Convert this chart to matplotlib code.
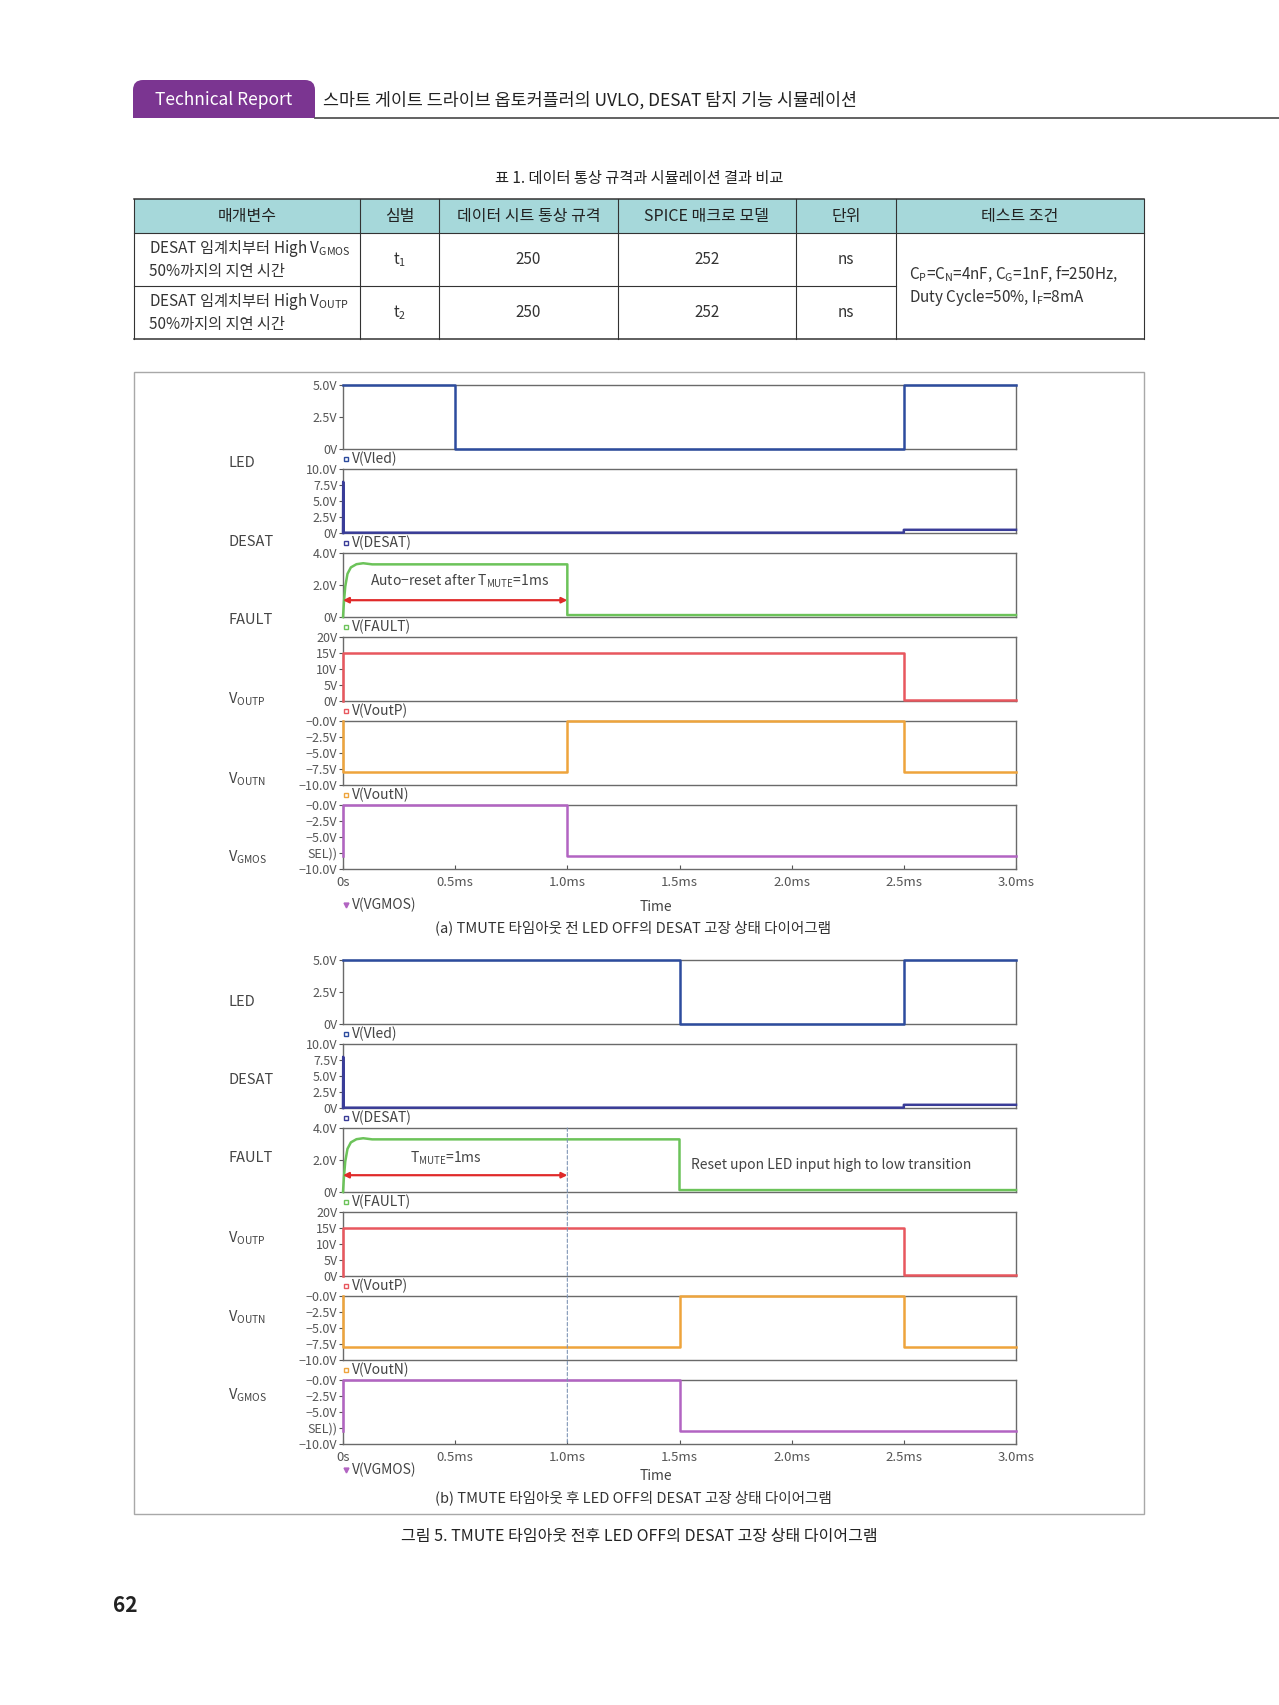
import matplotlib.pyplot as plt
from matplotlib.patches import Rectangle, FancyBboxPatch, ConnectionPatch

plt.rcParams['font.family'] = ['Noto Sans CJK KR', 'DejaVu Sans']
plt.rcParams['mathtext.default'] = 'regular'
plt.rcParams['axes.unicode_minus'] = True

W, H = 1279, 1705

# ---------------- data ----------------
table_header = ['매개변수', '심벌', '데이터 시트 통상 규격', 'SPICE 매크로 모델', '단위', '테스트 조건']
table_param = [('DESAT 임계치부터 High V$_{GMOS}$', '50%까지의 지연 시간'),
               ('DESAT 임계치부터 High V$_{OUTP}$', '50%까지의 지연 시간')]
table_symbol = ['t$_1$', 't$_2$']
table_datasheet = ['250', '250']
table_spice = ['252', '252']
table_unit = ['ns', 'ns']
table_cond = ['C$_P$=C$_N$=4nF, C$_G$=1nF, f=250Hz,', 'Duty Cycle=50%, I$_F$=8mA']

time_ticks = [0, 0.5, 1.0, 1.5, 2.0, 2.5, 3.0]
time_labels = ['0s', '0.5ms', '1.0ms', '1.5ms', '2.0ms', '2.5ms', '3.0ms']

channel_names = ['LED', 'DESAT', 'FAULT', 'V$_{OUTP}$', 'V$_{OUTN}$', 'V$_{GMOS}$']
trace_names = ['V(Vled)', 'V(DESAT)', 'V(FAULT)', 'V(VoutP)', 'V(VoutN)', 'V(VGMOS)']
ylims = [(0, 5), (0, 10), (0, 4), (0, 20), (-10, 0), (-10, 0)]
yticks = [[0, 2.5, 5], [0, 2.5, 5, 7.5, 10], [0, 2, 4], [0, 5, 10, 15, 20],
          [0, -2.5, -5, -7.5, -10], [0, -2.5, -5, -7.5, -10]]
yticklabels = [['0V', '2.5V', '5.0V'],
               ['0V', '2.5V', '5.0V', '7.5V', '10.0V'],
               ['0V', '2.0V', '4.0V'],
               ['0V', '5V', '10V', '15V', '20V'],
               ['\u22120.0V', '\u22122.5V', '\u22125.0V', '\u22127.5V', '\u221210.0V'],
               ['\u22120.0V', '\u22122.5V', '\u22125.0V', 'SEL))', '\u221210.0V']]

# (a) before TMUTE timeout
led_a_t = [0, 0.5, 0.5, 2.5, 2.5, 3.0]
led_a_v = [5.0, 5.0, 0.0, 0.0, 5.0, 5.0]
desat_t = [0, 0.001, 0.003, 2.5, 2.5, 3.0]
desat_v = [0, 8.0, 0.05, 0.05, 0.5, 0.5]
fault_a_t = [0, 0.004, 0.01, 0.02, 0.035, 0.06, 0.09, 0.13, 1.0, 1.0, 3.0]
fault_a_v = [0, 0.9, 1.9, 2.7, 3.1, 3.3, 3.36, 3.29, 3.29, 0.12, 0.12]
voutp_t = [0, 0, 2.5, 2.5, 3.0]
voutp_v = [0, 15.0, 15.0, 0.3, 0.3]
voutn_a_t = [0, 0, 1.0, 1.0, 2.5, 2.5, 3.0]
voutn_a_v = [0, -8.0, -8.0, 0, 0, -8.0, -8.0]
vgmos_a_t = [0, 0, 1.0, 1.0, 3.0]
vgmos_a_v = [-7.9, 0, 0, -7.9, -7.9]

# (b) after TMUTE timeout
led_b_t = [0, 1.5, 1.5, 2.5, 2.5, 3.0]
led_b_v = [5.0, 5.0, 0.0, 0.0, 5.0, 5.0]
fault_b_t = [0, 0.004, 0.01, 0.02, 0.035, 0.06, 0.09, 0.13, 1.5, 1.5, 3.0]
fault_b_v = [0, 0.9, 1.9, 2.7, 3.1, 3.3, 3.36, 3.29, 3.29, 0.12, 0.12]
voutn_b_t = [0, 0, 1.5, 1.5, 2.5, 2.5, 3.0]
voutn_b_v = [0, -8.0, -8.0, 0, 0, -8.0, -8.0]
vgmos_b_t = [0, 0, 1.5, 1.5, 3.0]
vgmos_b_v = [-7.9, 0, 0, -7.9, -7.9]

t_mute = 1.0
arrow_level = 1.05

colors = ['#2d4c9e', '#3a3d98', '#6cc35a', '#e8575e', '#eea43c', '#b264c2']

# ---------------- page ----------------
fig = plt.figure(figsize=(W / 100, H / 100), dpi=100)
page = fig.add_axes([0, 0, 1, 1])
page.set_xlim(0, W)
page.set_ylim(H, 0)
page.axis('off')

# header tab
page.add_patch(FancyBboxPatch((133, 80), 182, 38, boxstyle='round,pad=0,rounding_size=10',
                              fc='#7b3591', ec='none'))
page.add_patch(Rectangle((133, 104), 182, 14, fc='#7b3591', ec='none'))
page.plot([315, W], [118, 118], color='#555555', lw=1.3)
page.text(224, 100, 'Technical Report', color='white', fontsize=12.5, ha='center', va='center')
page.text(323, 100, '스마트 게이트 드라이브 옵토커플러의 UVLO, DESAT 탐지 기능 시뮬레이션',
          color='#222222', fontsize=12.5, ha='left', va='center')

# table
page.text(639, 178, '표 1. 데이터 통상 규격과 시뮬레이션 결과 비교', fontsize=11, ha='center', va='center', color='#222')
cols = [134, 360, 439, 618, 796, 896, 1144]
rows = [199, 233, 286, 339]
page.add_patch(Rectangle((cols[0], rows[0]), cols[-1] - cols[0], rows[1] - rows[0], fc='#a6d8da', ec='none'))
for y in rows:
    x1 = cols[5] if y == rows[2] else cols[-1]
    page.plot([cols[0], x1], [y, y], color='#333333', lw=1.1 if y in (rows[0], rows[-1]) else 0.8)
for x in cols:
    page.plot([x, x], [rows[0], rows[-1]], color='#333333', lw=0.8)
for i, h in enumerate(table_header):
    page.text((cols[i] + cols[i + 1]) / 2, (rows[0] + rows[1]) / 2, h, fontsize=11.5,
              ha='center', va='center', color='#222')
for r in range(2):
    yc = (rows[r + 1] + rows[r + 2]) / 2
    page.text(149, yc - 11, table_param[r][0], fontsize=11, ha='left', va='center', color='#333')
    page.text(149, yc + 12, table_param[r][1], fontsize=11, ha='left', va='center', color='#333')
    for c, vals in zip([1, 2, 3, 4], [table_symbol, table_datasheet, table_spice, table_unit]):
        page.text((cols[c] + cols[c + 1]) / 2, yc, vals[r], fontsize=11, ha='center', va='center', color='#333')
page.text(909, 274, table_cond[0], fontsize=11, ha='left', va='center', color='#333')
page.text(909, 298, table_cond[1], fontsize=11, ha='left', va='center', color='#333')

# figure frame
page.add_patch(Rectangle((134, 372), 1010, 1142, fc='none', ec='#a8a8a8', lw=1))


def rect(x0, y0, x1, y1):
    return [x0 / W, 1 - y1 / H, (x1 - x0) / W, (y1 - y0) / H]


def draw_block(tops, label_ys, traces, xlabel_y, time_y, caption_y, caption):
    axes = []
    for i, top in enumerate(tops):
        ax = fig.add_axes(rect(343, top, 1016, top + 64))
        t, v = traces[i]
        ax.plot(t, v, color=colors[i], lw=1.8, clip_on=False, zorder=3)
        ax.set_xlim(0, 3.0)
        ax.set_ylim(*ylims[i])
        ax.set_yticks(yticks[i])
        ax.set_yticklabels(yticklabels[i])
        ax.set_xticks(time_ticks)
        if i == len(tops) - 1:
            ax.set_xticklabels(time_labels)
        else:
            ax.set_xticklabels([])
        ax.tick_params(axis='y', direction='out', length=3, labelsize=9, colors='#555', pad=1)
        ax.tick_params(axis='x', direction='in', length=3 if i == len(tops) - 1 else 0,
                       labelsize=9.5, colors='#555', pad=5)
        for s in ax.spines.values():
            s.set_color('#6a6a6a')
            s.set_linewidth(1)
        page.text(228, label_ys[i], channel_names[i], fontsize=10.5, ha='left', va='center', color='#444')
        ly = top + 74 if i < len(tops) - 1 else xlabel_y
        page.plot([346], [ly], marker='s' if i < len(tops) - 1 else 'v', ms=3.5,
                  mfc='white' if i < len(tops) - 1 else colors[i], mec=colors[i], mew=1)
        page.text(352, ly, trace_names[i], fontsize=10, ha='left', va='center', color='#444')
        axes.append(ax)
    page.text(656, time_y, 'Time', fontsize=10, ha='center', va='center', color='#444')
    page.text(633, caption_y, caption, fontsize=10.5, ha='center', va='center', color='#333')
    return axes


tops_a = [385, 469, 553, 637, 721, 805]
labels_a = [463, 542, 620, 699, 779, 857]
axes_a = draw_block(tops_a, labels_a,
                    [(led_a_t, led_a_v), (desat_t, desat_v), (fault_a_t, fault_a_v),
                     (voutp_t, voutp_v), (voutn_a_t, voutn_a_v), (vgmos_a_t, vgmos_a_v)],
                    905, 907, 928, '(a) TMUTE 타임아웃 전 LED OFF의 DESAT 고장 상태 다이어그램')

tops_b = [960, 1044, 1128, 1212, 1296, 1380]
labels_b = [1002, 1080, 1158, 1238, 1317, 1395]
axes_b = draw_block(tops_b, labels_b,
                    [(led_b_t, led_b_v), (desat_t, desat_v), (fault_b_t, fault_b_v),
                     (voutp_t, voutp_v), (voutn_b_t, voutn_b_v), (vgmos_b_t, vgmos_b_v)],
                    1470, 1476, 1498, '(b) TMUTE 타임아웃 후 LED OFF의 DESAT 고장 상태 다이어그램')

# annotations
arrow_style = dict(arrowstyle='<|-|>', color='#e02a2a', lw=1.6, mutation_scale=8, shrinkA=0, shrinkB=0)
ax = axes_a[2]
ax.annotate('', xy=(t_mute, arrow_level), xytext=(0.0, arrow_level), arrowprops=arrow_style)
ax.text(0.12, 2.2, 'Auto\u2212reset after T$_{MUTE}$=1ms', fontsize=10, color='#444', ha='left', va='center')

ax = axes_b[2]
ax.annotate('', xy=(t_mute, arrow_level), xytext=(0.0, arrow_level), arrowprops=arrow_style)
ax.text(0.46, 2.1, 'T$_{MUTE}$=1ms', fontsize=10, color='#444', ha='center', va='center')
ax.text(1.55, 1.7, 'Reset upon LED input high to low transition', fontsize=10, color='#444',
        ha='left', va='center')

con = ConnectionPatch(xyA=(t_mute, ylims[2][1]), coordsA=axes_b[2].transData,
                      xyB=(t_mute, ylims[5][0]), coordsB=axes_b[5].transData,
                      linestyle=(0, (3, 2)), color='#7f95b5', lw=0.8)
fig.add_artist(con)

page.text(639, 1536, '그림 5. TMUTE 타임아웃 전후 LED OFF의 DESAT 고장 상태 다이어그램',
          fontsize=11.5, ha='center', va='center', color='#222')
page.text(113, 1605, '62', fontsize=15, fontweight='bold', ha='left', va='center', color='#222')

fig.savefig('out.png', dpi=100)
